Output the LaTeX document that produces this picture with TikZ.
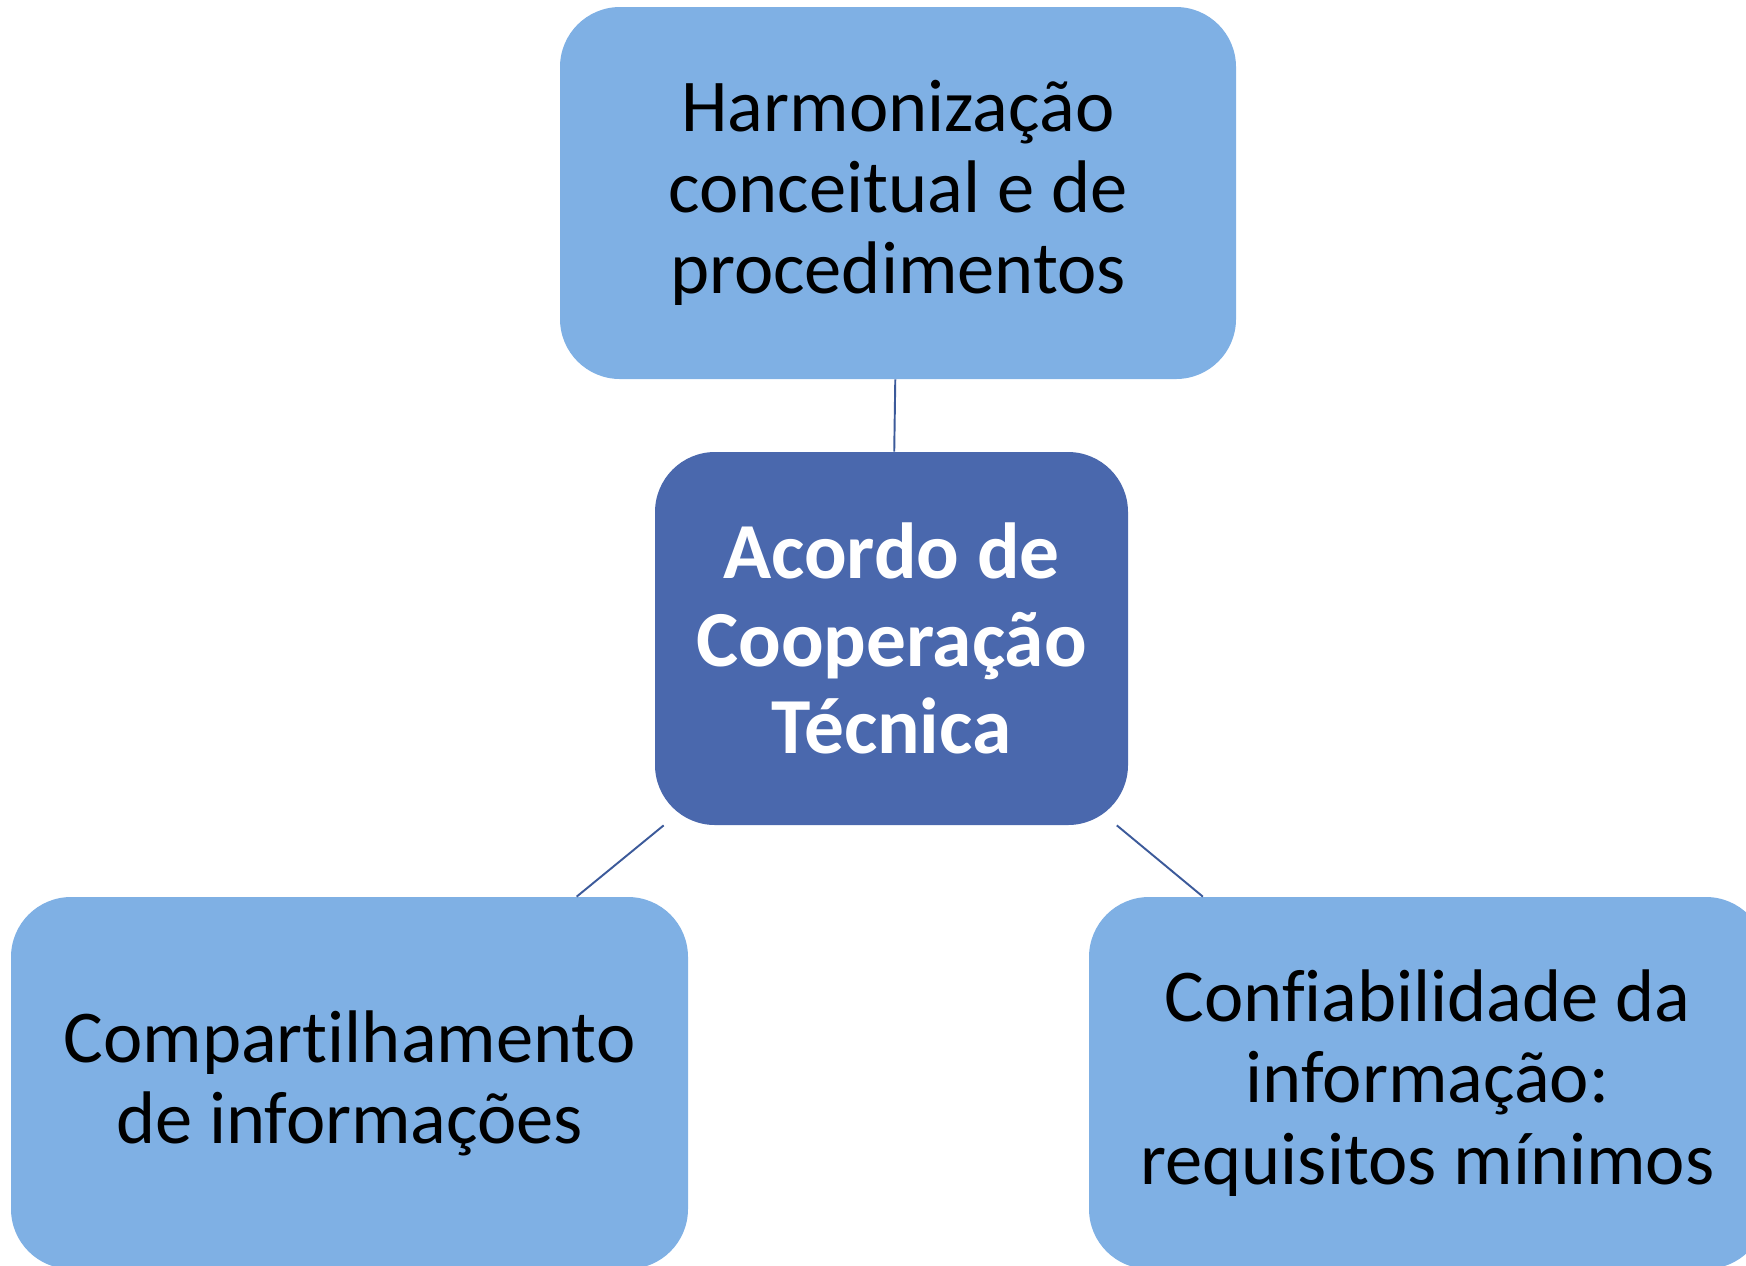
\documentclass[tikz,border=0pt]{standalone}
\usepackage{fontspec}
\setmainfont{Carlito}[Ligatures=NoCommon]
\usepackage{xcolor}
\usepackage{tikz}
\usetikzlibrary{positioning}

\definecolor{boxblue}{HTML}{7FB0E4}
\definecolor{hubblue}{HTML}{4A68AD}
\definecolor{linkblue}{HTML}{3C5A9A}

\begin{document}
\begin{tikzpicture}[
    topic/.style={rectangle, rounded corners=1.2cm, fill=boxblue, text=black, align=center,
        minimum width=13.54cm, minimum height=7.44cm, inner sep=0pt,
        font=\fontsize{42.4}{46.2}\selectfont},
    hub/.style={rectangle, rounded corners=1.2cm, fill=hubblue, text=white, align=center,
        minimum width=9.46cm, minimum height=7.46cm, inner sep=0pt,
        font=\bfseries\fontsize{45.2}{49.6}\selectfont},
    link/.style={linkblue, line width=1.1pt}
]
    \useasboundingbox (0,0) rectangle (34.92,-25.3);

    % Centre
    \node[hub] (acordo) at (17.83,-12.77) {Acordo de\\Cooperação\\Técnica};

    % Topics
    \node[topic, minimum width=13.52cm] (harmonizacao) at (17.96,-3.86) {Harmonização\\conceitual e de\\procedimentos};
    \node[topic] (compartilhamento) at (6.99,-21.66) {Compartilhamento\\de informações};
    \node[topic] (confiabilidade) at (28.55,-21.66) {Confiabilidade da\\informação:\\requisitos mínimos};

    % Links
    \draw[link] (acordo) -- (harmonizacao);
    \draw[link] (acordo) -- (compartilhamento);
    \draw[link] (acordo) -- (confiabilidade);
\end{tikzpicture}
\end{document}
